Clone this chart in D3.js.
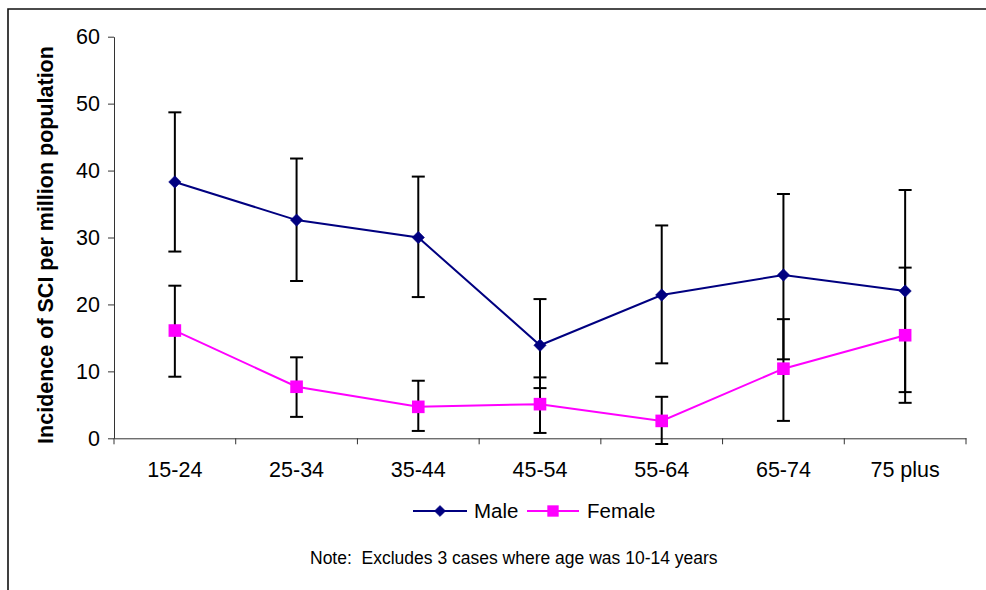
<!DOCTYPE html>
<html>
<head>
<meta charset="utf-8">
<script src="https://cdn.jsdelivr.net/npm/d3@7/dist/d3.min.js"></script>
<style>
  html, body { margin: 0; padding: 0; background: #fff; }
  svg { display: block; font-family: "Liberation Sans", Arial, sans-serif; }
</style>
</head>
<body>
<svg id="chart" width="986" height="590"></svg>
<script>
const categories = ["15-24", "25-34", "35-44", "45-54", "55-64", "65-74", "75 plus"];
const maleValues = [38.3, 32.6, 30.0, 13.9, 21.4, 24.4, 22.0];
const maleUpper  = [48.7, 41.8, 39.1, 20.8, 31.8, 36.5, 37.1];
const maleLower  = [27.9, 23.5, 21.1, 7.5, 11.2, 11.8, 6.9];
const femaleValues = [16.1, 7.7, 4.7, 5.1, 2.6, 10.4, 15.4];
const femaleUpper  = [22.8, 12.1, 8.6, 9.1, 6.2, 17.8, 25.5];
const femaleLower  = [9.2, 3.2, 1.1, 0.8, -0.85, 2.6, 5.3];
const yTicks = [0, 10, 20, 30, 40, 50, 60];
const seriesNames = ["Male", "Female"];
const yTitle = "Incidence of SCI per million population";
const noteText = "Note:  Excludes 3 cases where age was 10-14 years";

(function () {
const svg = d3.select("#chart");

// outer frame (top and left edges)
svg.append("path")
  .attr("d", "M8,590 L8,9 L986,9")
  .attr("fill", "none").attr("stroke", "#111").attr("stroke-width", 1.6);

const plotLeft = 114, plotRight = 966, plotTop = 36.7, plotBottom = 438.3;
const x = d3.scaleBand().domain(categories).range([plotLeft, plotRight]).padding(0);
const y = d3.scaleLinear().domain([0, 60]).range([plotBottom, plotTop]);
const cx = c => x(c) + x.bandwidth() / 2;

const axisColor = "#333";

// Y axis
const yAxis = svg.append("g").attr("transform", `translate(${plotLeft},0)`)
  .call(d3.axisLeft(y).tickValues(yTicks).tickSize(6).tickSizeOuter(0).tickPadding(8));
yAxis.select(".domain").attr("stroke", axisColor).attr("stroke-width", 1);
yAxis.selectAll(".tick line").attr("stroke", axisColor);
yAxis.selectAll(".tick text").attr("fill", "#000")
  .style("font-size", "21.5px").style("font-family", "'Liberation Sans', Arial, sans-serif");

// X axis line
const xAxis = svg.append("g").attr("transform", `translate(0,${plotBottom})`)
  .call(d3.axisBottom(x).tickSize(0).tickSizeOuter(0).tickPadding(0));
xAxis.select(".domain").attr("stroke", axisColor).attr("stroke-width", 1);
xAxis.selectAll(".tick text").attr("fill", "#000").attr("y", 39).attr("dy", 0)
  .style("font-size", "21.5px").style("font-family", "'Liberation Sans', Arial, sans-serif");

// X boundary ticks
const boundaries = categories.map(c => x(c)).concat([x.range()[1]]);
svg.append("g").selectAll("line").data(boundaries).join("line")
  .attr("x1", d => d).attr("x2", d => d)
  .attr("y1", plotBottom).attr("y2", plotBottom + 6)
  .attr("stroke", axisColor).attr("stroke-width", 1);

// Y title
svg.append("text")
  .attr("transform", `translate(53,245) rotate(-90)`)
  .attr("text-anchor", "middle")
  .style("font-size", "21.5px").style("font-weight", "bold")
  .text(yTitle);

const series = [
  { name: seriesNames[0], values: maleValues, upper: maleUpper, lower: maleLower, color: "#000080", marker: "diamond" },
  { name: seriesNames[1], values: femaleValues, upper: femaleUpper, lower: femaleLower, color: "#FF00FF", marker: "square" }
];

const line = d3.line().x(d => cx(d.c)).y(d => y(d.v));

// lines
series.forEach(s => {
  const pts = categories.map((c, i) => ({ c, v: s.values[i] }));
  svg.append("path").datum(pts)
    .attr("d", line).attr("fill", "none")
    .attr("stroke", s.color).attr("stroke-width", 2);
});

// error bars
series.forEach(s => {
  const g = svg.append("g").attr("stroke", "#000").attr("stroke-width", 2);
  categories.forEach((c, i) => {
    const px = cx(c);
    g.append("line").attr("x1", px).attr("x2", px)
      .attr("y1", y(s.upper[i])).attr("y2", y(s.lower[i]));
    [s.upper[i], s.lower[i]].forEach(v => {
      g.append("line").attr("x1", px - 6.5).attr("x2", px + 6.5)
        .attr("y1", y(v)).attr("y2", y(v));
    });
  });
});

function drawMarker(g, type, px, py, color, scale) {
  if (type === "diamond") {
    const h = 6.2 * scale;
    g.append("path")
      .attr("d", `M${px},${py - h} L${px + h},${py} L${px},${py + h} L${px - h},${py} Z`)
      .attr("fill", color).attr("stroke", color).attr("stroke-width", 0.5);
  } else {
    const h = 6.3 * scale;
    g.append("rect").attr("x", px - h).attr("y", py - h)
      .attr("width", 2 * h).attr("height", 2 * h)
      .attr("fill", color);
  }
}

// markers
series.forEach(s => {
  const g = svg.append("g");
  categories.forEach((c, i) => drawMarker(g, s.marker, cx(c), y(s.values[i]), s.color, 1));
});

// legend
const legendY = 511;
const legendItems = [
  { s: series[0], x0: 413, x1: 467, tx: 474 },
  { s: series[1], x0: 527, x1: 579, tx: 587 }
];
legendItems.forEach(it => {
  const g = svg.append("g");
  g.append("line").attr("x1", it.x0).attr("x2", it.x1).attr("y1", legendY).attr("y2", legendY)
    .attr("stroke", it.s.color).attr("stroke-width", 2);
  drawMarker(g, it.s.marker, (it.x0 + it.x1) / 2, legendY, it.s.color, 0.9);
  g.append("text").attr("x", it.tx).attr("y", legendY + 7)
    .style("font-size", "20.5px").text(it.s.name);
});

// note
svg.append("text").attr("x", 310).attr("y", 564)
  .style("font-size", "17.5px").style("white-space", "pre")
  .attr("xml:space", "preserve")
  .text(noteText);
})();
</script>
</body>
</html>
